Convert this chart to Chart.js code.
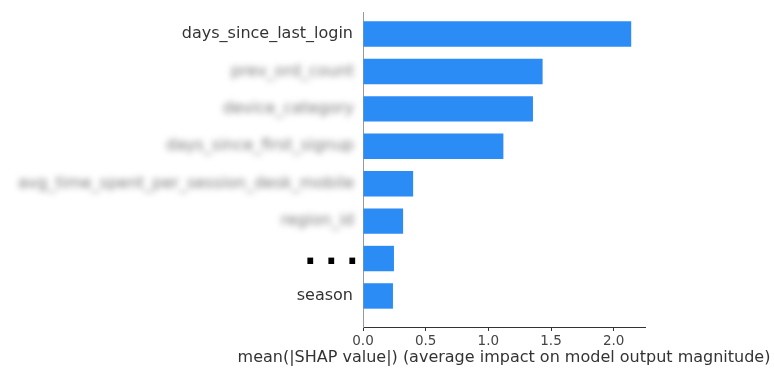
<!DOCTYPE html>
<html>
<head>
<meta charset="utf-8">
<script src="https://cdn.jsdelivr.net/npm/chart.js@4.4.1/dist/chart.umd.min.js"></script>
<style>
    html, body { margin: 0; padding: 0; background: #fff; }
    #wrap { width: 774px; height: 370px; position: relative; }
</style>
</head>
<body>
<div id="wrap"><canvas id="graficaShap"></canvas></div>
<script>
/* =========================================================
    DATOS
========================================================= */

// Nombres de variables (de arriba hacia abajo)
const variables = [
    "days_since_last_login",
    "prev_ord_count",
    "device_category",
    "days_since_first_signup",
    "avg_time_spent_per_session_desk_mobile",
    "region_id",
    ". . .",
    "season"
];

// mean(|SHAP|) por variable
const valores = [2.14, 1.433, 1.356, 1.12, 0.40, 0.32, 0.247, 0.239];

// Variables que se muestran difuminadas
const difuminadas = [1, 2, 3, 4, 5];

// Fila de los puntos suspensivos
const filaPuntos = 6;

// Marcas del eje x
const marcasX = [0, 0.5, 1.0, 1.5, 2.0];

const tituloX = "mean(|SHAP value|) (average impact on model output magnitude)";

/* =========================================================
    PLUGIN: etiquetas difuminadas, puntos y titulo del eje x
========================================================= */
const etiquetasExtra = {
    id: "etiquetasExtra",
    afterDraw(chart) {
        const ctx = chart.ctx;
        const x = chart.scales.x;
        const y = chart.scales.y;
        const borde = y.right - 9;

        // titulo centrado bajo el eje, sin recorte de ancho
        ctx.save();
        ctx.font = "16px 'DejaVu Sans'";
        ctx.fillStyle = "#333333";
        ctx.textAlign = "center";
        ctx.textBaseline = "middle";
        ctx.fillText(tituloX, (x.left + x.right) / 2, 358);
        ctx.restore();

        // puntos suspensivos (apoyados en la linea base)
        ctx.save();
        ctx.font = "bold 33px 'DejaVu Sans'";
        ctx.letterSpacing = "-1.5px";
        ctx.fillStyle = "#000000";
        ctx.textAlign = "right";
        ctx.textBaseline = "alphabetic";
        ctx.fillText(variables[filaPuntos], borde + 3, y.getPixelForValue(filaPuntos) + 5.5);
        ctx.restore();

        // nombres ocultos
        ctx.save();
        ctx.font = "16px 'DejaVu Sans'";
        ctx.textAlign = "right";
        ctx.textBaseline = "middle";
        ctx.fillStyle = "#777";
        ctx.filter = "blur(3px)";
        difuminadas.forEach(i => {
            ctx.fillText(variables[i], borde, y.getPixelForValue(i));
        });
        ctx.restore();
    }
};

/* =========================================================
    GRAFICA
========================================================= */
Chart.defaults.font.family = "'DejaVu Sans'";
Chart.defaults.color = "#333333";

new Chart(document.getElementById("graficaShap"), {
    type: "bar",
    data: {
        datasets: [{
            data: valores.map((v, i) => ({ x: v, y: i })),
            backgroundColor: "#2A8CF4",
            borderWidth: 0,
            barPercentage: 0.68,
            categoryPercentage: 1
        }]
    },
    options: {
        indexAxis: "y",
        responsive: true,
        maintainAspectRatio: false,
        animation: false,
        layout: { padding: { top: 12, right: 129, left: 0, bottom: 0 } },
        plugins: {
            legend: { display: false },
            tooltip: { enabled: false }
        },
        scales: {
            x: {
                type: "linear",
                min: 0,
                max: 2.25,
                afterBuildTicks: s => { s.ticks = marcasX.map(v => ({ value: v })); },
                afterFit: s => { s.height = 43; },
                border: { display: true, color: "#333333", width: 1 },
                grid: {
                    display: true,
                    drawOnChartArea: false,
                    drawTicks: true,
                    tickLength: 4,
                    tickColor: "#333333"
                },
                ticks: {
                    font: { size: 13.5 },
                    color: "#444444",
                    padding: 2,
                    maxRotation: 0,
                    callback: v => v.toFixed(1)
                }
            },
            y: {
                type: "linear",
                reverse: true,
                offset: false,
                min: -0.59,
                max: 7.83,
                afterBuildTicks: s => { s.ticks = variables.map((_, i) => ({ value: i })); },
                afterFit: s => { s.width = 363; },
                border: { display: true, color: "#999999", width: 1 },
                grid: { display: false, offset: false },
                ticks: {
                    padding: 2,
                    autoSkip: false,
                    callback: v => variables[v],
                    color: c => (difuminadas.includes(c.index) || c.index === filaPuntos)
                        ? "rgba(0,0,0,0)" : "#333333",
                    font: { size: 16 }
                }
            }
        }
    },
    plugins: [etiquetasExtra]
});
</script>
</body>
</html>
